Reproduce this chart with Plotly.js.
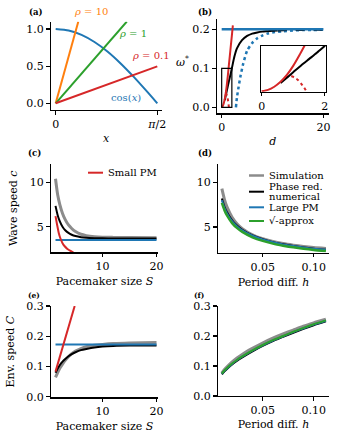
<!DOCTYPE html>
<html><head><meta charset="utf-8">
<script src="https://cdn.plot.ly/plotly-3.0.1.min.js"></script>
<style>html,body{margin:0;padding:0;background:#fff}#plot{width:339px;height:440px}</style>
</head><body><div id="plot"></div>
<script>
// ---------- Panel (a) ----------
const cosX = [0, 0.2, 0.4, 0.6, 0.8, 1.0, 1.2, 1.4, 1.571];
const cosY = [1, 0.98, 0.921, 0.825, 0.697, 0.54, 0.362, 0.17, 0];
const rho10X = [0, 0.35];  const rho10Y = [0, 1.1];
const rho1X  = [0, 1.1];   const rho1Y  = [0, 1.1];
const rho01X = [0, 1.571]; const rho01Y = [0, 0.497];
const aXTicks = [0, 1.5708]; const aXTickText = ['0', '<i>π</i>/2'];
const aYTicks = [0, 0.5, 1.0]; const aYTickText = ['0.0', '0.5', '1.0'];

// ---------- Panel (b) ----------
const bLargeD = [0, 20];  const bLargeW = [0.2, 0.2];
const bRedD = [0, 0.2, 0.4, 0.6, 0.8, 1.0, 1.2, 1.4, 1.6, 1.8, 2.0, 2.2];
const bRedW = [0, 0.003, 0.01, 0.021, 0.036, 0.056, 0.08, 0.106, 0.132, 0.158, 0.184, 0.21];
const bRedDotD = [0.75, 0.85, 0.95, 1.05, 1.15, 1.25, 1.35, 1.42];
const bRedDotW = [0.03, 0.033, 0.033, 0.03, 0.025, 0.017, 0.008, 0.0];
const bBlackD = [0.6, 0.8, 1.0, 1.25, 1.5, 1.75, 2, 2.5, 3, 4, 5, 6, 7, 8, 9, 10, 11];
const bBlackW = [0.018, 0.03, 0.042, 0.057, 0.071, 0.085, 0.1, 0.13, 0.151, 0.172, 0.183, 0.189, 0.192, 0.194, 0.195, 0.196, 0.197];
const bBlackDashD = [11, 13, 15, 17, 20];
const bBlackDashW = [0.197, 0.198, 0.198, 0.199, 0.199];
const bBlueDotD = [2.8, 3.0, 3.3, 3.7, 4.2, 5, 6, 7, 8, 9, 10, 12, 14, 16, 18, 20];
const bBlueDotW = [0, 0.025, 0.05, 0.08, 0.11, 0.145, 0.165, 0.177, 0.184, 0.189, 0.192, 0.195, 0.197, 0.198, 0.198, 0.199];
const bXTicks = [0, 20]; const bYTicks = [0, 0.1, 0.2]; const bYTickText = ['0.0', '0.1', '0.2'];
const insetXRange = [-0.02, 2.03]; const insetYRange = [-0.001, 0.1];
const insetXTicks = [0, 2];

// ---------- Panel (c) ----------
const cS = [1.3, 1.7, 2.1, 2.6, 3.1, 3.7, 4.3, 5, 6, 7, 8.5, 10, 12, 15, 20];
const cGray  = [10.4, 8.6, 7.5, 6.5, 5.8, 5.2, 4.8, 4.45, 4.15, 4.0, 3.88, 3.82, 3.8, 3.78, 3.77];
const cBlack = [7.35, 6.3, 5.6, 5.0, 4.6, 4.3, 4.1, 3.95, 3.82, 3.75, 3.71, 3.69, 3.68, 3.68, 3.68];
const cLargeS = [1.3, 20]; const cLarge = [3.5, 3.5];
const cSmallS = [1.3, 1.6, 1.9, 2.2, 2.6, 3.0, 3.5, 4.0, 4.6, 5.0];
const cSmall  = [6.2, 5.2, 4.3, 3.7, 3.15, 2.8, 2.5, 2.3, 2.07, 1.95];
const cXTicks = [10, 20]; const cYTicks = [5, 10];

// ---------- Panel (d) ----------
const dH = [0.01, 0.0125, 0.015, 0.02, 0.025, 0.03, 0.04, 0.05, 0.06, 0.07, 0.08, 0.09, 0.1, 0.112];
const dGray  = [9.3, 8.1, 7.25, 6.1, 5.35, 4.82, 4.12, 3.68, 3.38, 3.15, 2.97, 2.82, 2.7, 2.6];
const dBlack = [8.2, 7.3, 6.65, 5.75, 5.13, 4.68, 4.05, 3.62, 3.3, 3.06, 2.87, 2.71, 2.57, 2.44];
const dLarge = [8.0, 7.15, 6.53, 5.65, 5.06, 4.63, 4.02, 3.6, 3.29, 3.05, 2.86, 2.7, 2.57, 2.44];
const dSqrt  = [7.7, 6.89, 6.29, 5.44, 4.87, 4.45, 3.85, 3.44, 3.14, 2.91, 2.72, 2.57, 2.43, 2.3];
const hXTicks = [0.05, 0.1]; const hXTickText = ['0.05', '0.10'];

// ---------- Panel (e) ----------
const eS = [1.3, 1.7, 2.1, 2.6, 3.1, 3.7, 4.3, 5, 6, 7, 8.5, 10, 12, 15, 20];
const eGray  = [0.064, 0.08, 0.094, 0.108, 0.12, 0.132, 0.142, 0.151, 0.159, 0.165, 0.17, 0.173, 0.176, 0.178, 0.179];
const eBlack = [0.079, 0.093, 0.105, 0.116, 0.125, 0.134, 0.141, 0.147, 0.154, 0.158, 0.163, 0.166, 0.168, 0.169, 0.169];
const eLargeS = [1.3, 20]; const eLarge = [0.173, 0.173];
const eSmallS = [1.3, 4.85]; const eSmall = [0.083, 0.3];
const envYTicks = [0, 0.1, 0.2, 0.3]; const envYTickText = ['0.0', '0.1', '0.2', '0.3'];

// ---------- Panel (f) ----------
const fH = [0.01, 0.0125, 0.015, 0.02, 0.025, 0.03, 0.04, 0.05, 0.06, 0.07, 0.08, 0.09, 0.1, 0.112];
const fGray  = [0.076, 0.087, 0.096, 0.112, 0.126, 0.138, 0.158, 0.176, 0.192, 0.206, 0.219, 0.232, 0.243, 0.255];
const fBlack = [0.072, 0.082, 0.09, 0.105, 0.118, 0.129, 0.149, 0.167, 0.183, 0.197, 0.211, 0.224, 0.236, 0.249];
const fLarge = [0.074, 0.084, 0.092, 0.107, 0.12, 0.131, 0.151, 0.169, 0.185, 0.199, 0.213, 0.226, 0.238, 0.251];
const fSqrt  = [0.075, 0.085, 0.093, 0.108, 0.121, 0.132, 0.152, 0.17, 0.186, 0.2, 0.214, 0.227, 0.239, 0.252];

// ---------- styling ----------
const W = 339, H = 440;
const BLUE = '#1f77b4', ORANGE = '#ff7f0e', GREEN = '#2ca02c', RED = '#d62728', GRAY = '#8c8c8c', BLACK = '#000000';
const FONT = 'DejaVu Serif, serif';
const px = v => v / W, py = v => 1 - v / H;

function ln(x, y, xa, ya, color, width, dash, shape) {
  return {x, y, xaxis: xa, yaxis: ya, type: 'scatter', mode: 'lines', showlegend: false, hoverinfo: 'skip',
          line: {color, width, dash: dash || 'solid', shape: shape || 'spline', smoothing: 0.6}};
}

const traces = [
  // (a)
  ln(cosX, cosY, 'x', 'y', BLUE, 2),
  ln(rho10X, rho10Y, 'x', 'y', ORANGE, 2, 'solid', 'linear'),
  ln(rho1X, rho1Y, 'x', 'y', GREEN, 2, 'solid', 'linear'),
  ln(rho01X, rho01Y, 'x', 'y', RED, 2, 'solid', 'linear'),
  // (b)
  ln(bBlueDotD, bBlueDotW, 'x2', 'y2', BLUE, 2.5, 'dot'),
  ln(bBlackDashD, bBlackDashW, 'x2', 'y2', BLACK, 2, 'dash'),
  ln(bBlackD, bBlackW, 'x2', 'y2', BLACK, 2),
  ln(bLargeD, bLargeW, 'x2', 'y2', BLUE, 2.5, 'solid', 'linear'),
  ln(bRedDotD, bRedDotW, 'x2', 'y2', RED, 2, 'dot'),
  ln(bRedD, bRedW, 'x2', 'y2', RED, 2),
  // inset
  ln(bRedDotD, bRedDotW, 'x7', 'y7', RED, 2, 'dot'),
  ln(bBlackD, bBlackW, 'x7', 'y7', BLACK, 2),
  ln(bRedD, bRedW, 'x7', 'y7', RED, 2),
  // (c)
  ln(cS, cGray, 'x3', 'y3', GRAY, 3),
  ln(cS, cBlack, 'x3', 'y3', BLACK, 2),
  ln(cLargeS, cLarge, 'x3', 'y3', BLUE, 2, 'solid', 'linear'),
  ln(cSmallS, cSmall, 'x3', 'y3', RED, 2),
  // (d)
  ln(dH, dGray, 'x4', 'y4', GRAY, 3),
  ln(dH, dBlack, 'x4', 'y4', BLACK, 2),
  ln(dH, dLarge, 'x4', 'y4', BLUE, 2),
  ln(dH, dSqrt, 'x4', 'y4', GREEN, 2.5),
  // (e)
  ln(eS, eGray, 'x5', 'y5', GRAY, 3),
  ln(eS, eBlack, 'x5', 'y5', BLACK, 2),
  ln(eLargeS, eLarge, 'x5', 'y5', BLUE, 2, 'solid', 'linear'),
  ln(eSmallS, eSmall, 'x5', 'y5', RED, 2, 'solid', 'linear'),
  // (f)
  ln(fH, fGray, 'x6', 'y6', GRAY, 3.5),
  ln(fH, fBlack, 'x6', 'y6', BLACK, 2),
  ln(fH, fLarge, 'x6', 'y6', BLUE, 2),
  ln(fH, fSqrt, 'x6', 'y6', GREEN, 2),
];

const tickFont = {family: FONT, size: 11, color: '#000'};
function ax(domain, range, extra) {
  return Object.assign({domain, range, showline: true, linecolor: '#000', linewidth: 1.2, mirror: false,
    ticks: 'outside', ticklen: 3.5, tickwidth: 1.1, tickcolor: '#000', showgrid: false, zeroline: false,
    tickfont: tickFont, fixedrange: true, automargin: false, tickmode: 'array'}, extra || {});
}
function titleObj(text, standoff) {
  return {text, font: {family: FONT, size: 11, color: '#000'}, standoff};
}

const layout = {
  width: W, height: H, margin: {l: 0, r: 0, t: 0, b: 0}, paper_bgcolor: '#fff', plot_bgcolor: 'rgba(0,0,0,0)',
  showlegend: false, font: {family: FONT, size: 11, color: '#000'},
  // (a)
  xaxis:  ax([px(50.7), px(161.7)], [-0.077, 1.639], {anchor: 'y', tickvals: aXTicks, ticktext: aXTickText, title: titleObj('<i>x</i>', 4)}),
  yaxis:  ax([py(110), py(21.7)], [-0.09, 1.098], {anchor: 'x', tickvals: aYTicks, ticktext: aYTickText}),
  // (b)
  xaxis2: ax([px(216.7), px(329)], [-0.98, 21.1], {anchor: 'y2', tickvals: bXTicks, title: titleObj('<i>d</i>', 4)}),
  yaxis2: ax([py(113.3), py(19.3)], [-0.0154, 0.2256], {anchor: 'x2', tickvals: bYTicks, ticktext: bYTickText}),
  // (c)
  xaxis3: ax([px(50.7), px(158.3)], [0.41, 20.33], {anchor: 'y3', tickvals: cXTicks, title: titleObj('Pacemaker size <i>S</i>', 5)}),
  yaxis3: ax([py(252.3), py(164.3)], [2.12, 12.03], {anchor: 'x3', tickvals: cYTicks, title: titleObj('Wave speed <i>c</i>', 10)}),
  // (d)
  xaxis4: ax([px(217.7), px(329.3)], [0.0059, 0.1153], {anchor: 'y4', tickvals: hXTicks, ticktext: hXTickText, title: titleObj('Period diff. <i>h</i>', 5)}),
  yaxis4: ax([py(252.7), py(164.3)], [2.12, 12.03], {anchor: 'x4', tickvals: cYTicks}),
  // (e)
  xaxis5: ax([px(50.7), px(158.3)], [0.41, 20.33], {anchor: 'y5', tickvals: cXTicks, title: titleObj('Pacemaker size <i>S</i>', 5)}),
  yaxis5: ax([py(397.3), py(306)], [-0.002, 0.3], {anchor: 'x5', tickvals: envYTicks, ticktext: envYTickText, title: titleObj('Env. speed <i>C</i>', 9)}),
  // (f)
  xaxis6: ax([px(217.7), px(329.3)], [0.0059, 0.1153], {anchor: 'y6', tickvals: hXTicks, ticktext: hXTickText, title: titleObj('Period diff. <i>h</i>', 4)}),
  yaxis6: ax([py(396), py(306)], [0, 0.3], {anchor: 'x6', tickvals: envYTicks, ticktext: envYTickText}),
  // inset
  xaxis7: ax([px(261), px(325.7)], insetXRange, {anchor: 'y7', tickvals: insetXTicks, mirror: true, linewidth: 1.1}),
  yaxis7: ax([py(91.7), py(46)], insetYRange, {anchor: 'x7', showticklabels: false, ticks: '', tickvals: [0], mirror: true, linewidth: 1.1}),
  shapes: [
    // zoom box in (b) marking the inset's region
    {type: 'rect', xref: 'x2', yref: 'y2', x0: insetXRange[0] + 0.02, x1: insetXRange[1] - 0.03, y0: 0, y1: insetYRange[1],
     line: {color: '#000', width: 1.2}, fillcolor: 'rgba(0,0,0,0)'},
    // legend keys
    {type: 'line', xref: 'paper', yref: 'paper', x0: px(88), x1: px(103), y0: py(172.7), y1: py(172.7), line: {color: RED, width: 2}},
    {type: 'line', xref: 'paper', yref: 'paper', x0: px(249), x1: px(264), y0: py(175.5), y1: py(175.5), line: {color: GRAY, width: 2.5}},
    {type: 'line', xref: 'paper', yref: 'paper', x0: px(249), x1: px(264), y0: py(191.7), y1: py(191.7), line: {color: BLACK, width: 2}},
    {type: 'line', xref: 'paper', yref: 'paper', x0: px(249), x1: px(264), y0: py(207.3), y1: py(207.3), line: {color: BLUE, width: 2}},
    {type: 'line', xref: 'paper', yref: 'paper', x0: px(249), x1: px(264), y0: py(221), y1: py(221), line: {color: GREEN, width: 2}},
  ],
  annotations: []
};

function note(text, x, y, opts) {
  layout.annotations.push(Object.assign({text, xref: 'paper', yref: 'paper', x: px(x), y: py(y), showarrow: false,
    xanchor: 'center', yanchor: 'middle', font: {family: FONT, size: 10, color: '#000'}}, opts || {}));
}
// panel labels
note('<b>(a)</b>', 35.5, 12.3, {font: {family: FONT, size: 8.5, color: '#000'}});
note('<b>(b)</b>', 205, 12.3, {font: {family: FONT, size: 8.5, color: '#000'}});
note('<b>(c)</b>', 34.5, 153.3, {font: {family: FONT, size: 8.5, color: '#000'}});
note('<b>(d)</b>', 205, 153.3, {font: {family: FONT, size: 8.5, color: '#000'}});
note('<b>(e)</b>', 34, 295, {font: {family: FONT, size: 7.5, color: '#000'}});
note('<b>(f)</b>', 199, 295.5, {font: {family: FONT, size: 7.5, color: '#000'}});
// panel (a) curve labels
note('<i>ρ</i> = 10', 91.5, 11.5, {font: {family: FONT, size: 10, color: ORANGE}});
note('<i>ρ</i> = 1', 133, 33.3, {font: {family: FONT, size: 10, color: GREEN}});
note('<i>ρ</i> = 0.1', 151, 56, {font: {family: FONT, size: 10, color: RED}});
note('cos(<i>x</i>)', 126, 97.7, {font: {family: FONT, size: 10, color: BLUE}});
// (b) y label
note('<i>ω</i><sup>*</sup>', 182, 61.7, {font: {family: FONT, size: 11, color: '#000'}});
// legends
note('Small PM', 106, 172.7, {xanchor: 'left'});
note('Simulation', 266.5, 175.3, {xanchor: 'left'});
note('Phase red.', 266.5, 186.7, {xanchor: 'left'});
note('numerical', 266.5, 196.5, {xanchor: 'left'});
note('Large PM', 266.5, 207.3, {xanchor: 'left'});
note('√-approx', 266.5, 220.5, {xanchor: 'left'});

Plotly.newPlot('plot', traces, layout, {staticPlot: true, displayModeBar: false});
</script>
</body></html>
